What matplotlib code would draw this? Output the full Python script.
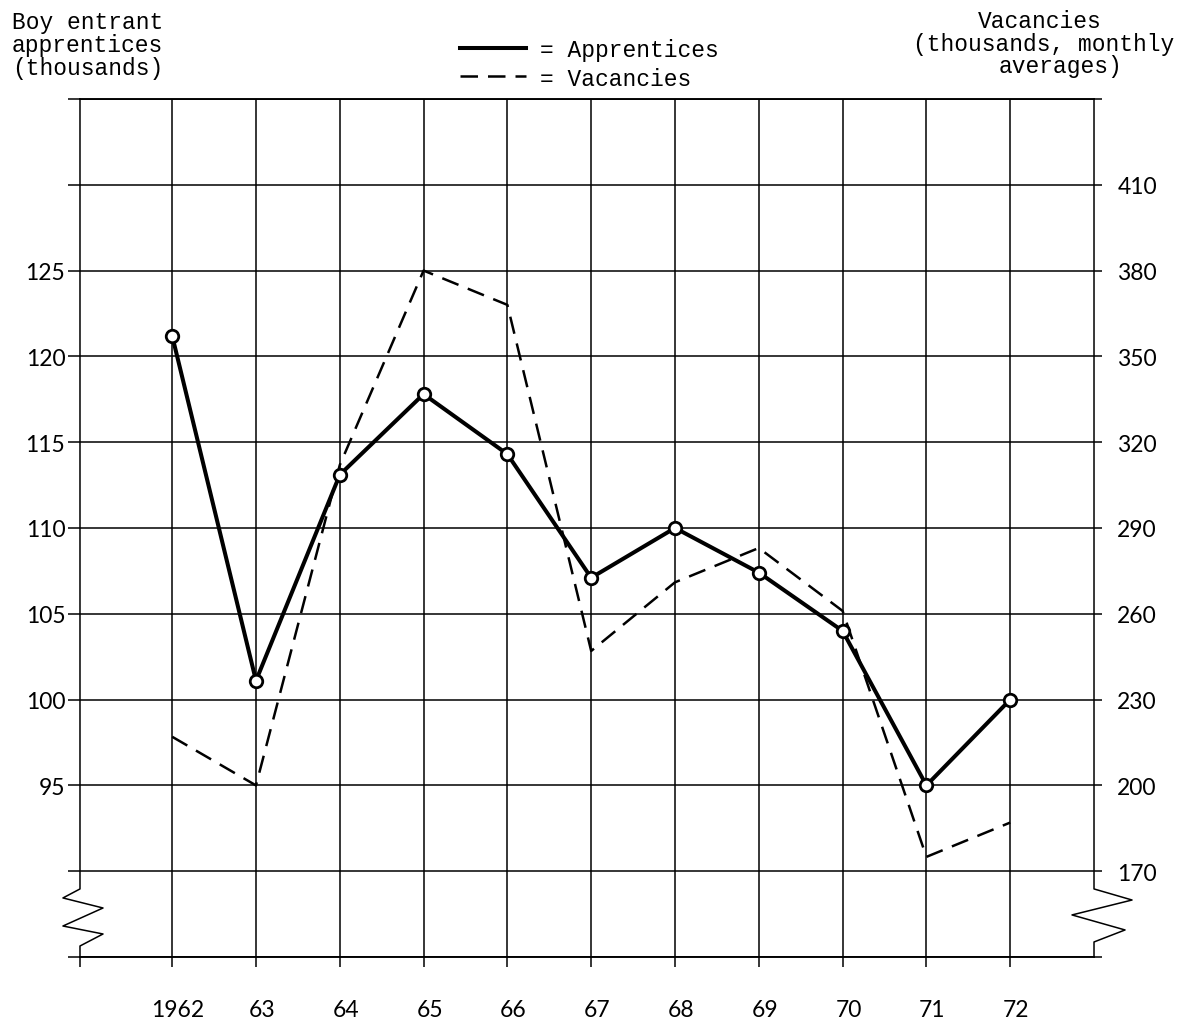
#!/usr/bin/env python3
"""
Boy entrant apprentices vs. vacancies, 1962-72 (two-scale line chart).
"""

import matplotlib
matplotlib.use("Agg")
import matplotlib.pyplot as plt
from matplotlib.lines import Line2D
from matplotlib.transforms import ScaledTranslation

# data
years = [1962, 1963, 1964, 1965, 1966, 1967, 1968, 1969, 1970, 1971, 1972]
year_labels = ["1962", "63", "64", "65", "66", "67", "68", "69", "70", "71", "72"]
apprentices = [121.2, 101.1, 113.1, 117.8, 114.3, 107.1, 110.0, 107.4, 104.0, 95.0, 100.0]
vacancies = [217, 200, 312, 380, 368, 247, 271, 283, 261, 175, 187]

left_ticks = [85, 90, 95, 100, 105, 110, 115, 120, 125, 130, 135]
left_labeled = [95, 100, 105, 110, 115, 120, 125]
right_ticks = [140, 170, 200, 230, 260, 290, 320, 350, 380, 410, 440]
right_labeled = [170, 200, 230, 260, 290, 320, 350, 380, 410]

MONO = "Liberation Mono"
SANS = "Lato"
LW_GRID = 1.1

fig = plt.figure(figsize=(11.78, 10.20), dpi=100)
fig.subplots_adjust(left=0.0679, right=0.9287, bottom=0.0608, top=0.902)
ax = fig.add_subplot(111)
ax2 = ax.twinx()

ax.set_xlim(1960.9, 1973)
ax.set_ylim(85, 135)
ax2.set_ylim(140, 440)

# vacancies (right scale)
ax2.plot(years, vacancies, color="black", linewidth=1.8, dashes=(7, 4),
         solid_capstyle="butt", zorder=3)
# apprentices (left scale)
ax.plot(years, apprentices, color="black", linewidth=2.9, marker="o",
        markersize=9, markerfacecolor="white", markeredgewidth=2.0,
        markeredgecolor="black", zorder=4)
ax.set_zorder(ax2.get_zorder() + 1)
ax.patch.set_visible(False)

# x axis
ax.set_xticks(years)
ax.set_xticklabels(year_labels, fontfamily=SANS, fontsize=16.5)
ax.set_xticks([1960.9], minor=True)
ax.tick_params(axis="x", which="both", direction="out", length=7,
               width=LW_GRID, pad=23)
shift = ScaledTranslation(6 / 100, 0, fig.dpi_scale_trans)
for lbl in ax.get_xticklabels():
    lbl.set_transform(lbl.get_transform() + shift)

# left axis
ax.set_yticks(left_ticks)
ax.set_yticklabels([str(v) if v in left_labeled else "" for v in left_ticks],
                   fontfamily=SANS, fontsize=16.5)
ax.tick_params(axis="y", direction="out", length=8.6, width=LW_GRID, pad=2)

# right axis
ax2.set_yticks(right_ticks)
ax2.set_yticklabels([str(v) if v in right_labeled else "" for v in right_ticks],
                    fontfamily=SANS, fontsize=16.5)
ax2.tick_params(axis="y", direction="out", length=5.8, width=LW_GRID, pad=11)

ax.grid(True, which="major", color="black", linewidth=LW_GRID)
ax.set_axisbelow(True)

for a in (ax, ax2):
    for side in ("left", "right"):
        a.spines[side].set_visible(False)
    for side in ("top", "bottom"):
        a.spines[side].set_linewidth(LW_GRID)

# side axes with zigzag break below the 170 / 90 line
left_x = [0, 0, -0.0168, 0.0227, -0.0168, 0.0227, 0, 0]
left_y = [1, 0.0793, 0.0688, 0.0571, 0.0361, 0.0268, 0.0128, 0]
right_x = [1, 1, 1.0375, 0.9783, 1.0306, 1, 1]
right_y = [1, 0.0793, 0.0664, 0.049, 0.0315, 0.0175, 0]
for xs, ys in ((left_x, left_y), (right_x, right_y)):
    ax.plot(xs, ys, color="black", linewidth=LW_GRID, transform=ax.transAxes,
            clip_on=False, zorder=5)

# axis headings
fig.text(12 / 1178, 1 - 11 / 1020, "Boy entrant\napprentices\n(thousands)",
         ha="left", va="top", fontfamily=MONO, fontsize=16.5, linespacing=1.0)
right_heading = [("Vacancies", 1040, 22), ("(thousands, monthly", 1044, 44),
                 ("averages)", 1060, 66)]
for text, xpx, ypx in right_heading:
    fig.text(xpx / 1178, 1 - ypx / 1020, text, ha="center", va="center",
             fontfamily=MONO, fontsize=16.5)

# legend
handles = [
    Line2D([], [], color="black", linewidth=2.9),
    Line2D([], [], color="black", linewidth=1.8, dashes=(7, 4)),
]
fig.legend(handles, ["= Apprentices", "= Vacancies"], loc="upper left",
           bbox_to_anchor=(460 / 1178, 1 - 39 / 1020), frameon=False,
           prop={"family": MONO, "size": 16.5}, handlelength=2.9,
           handletextpad=0.6, labelspacing=0.24, borderpad=0, borderaxespad=0)

fig.savefig("out.png", dpi=100)
